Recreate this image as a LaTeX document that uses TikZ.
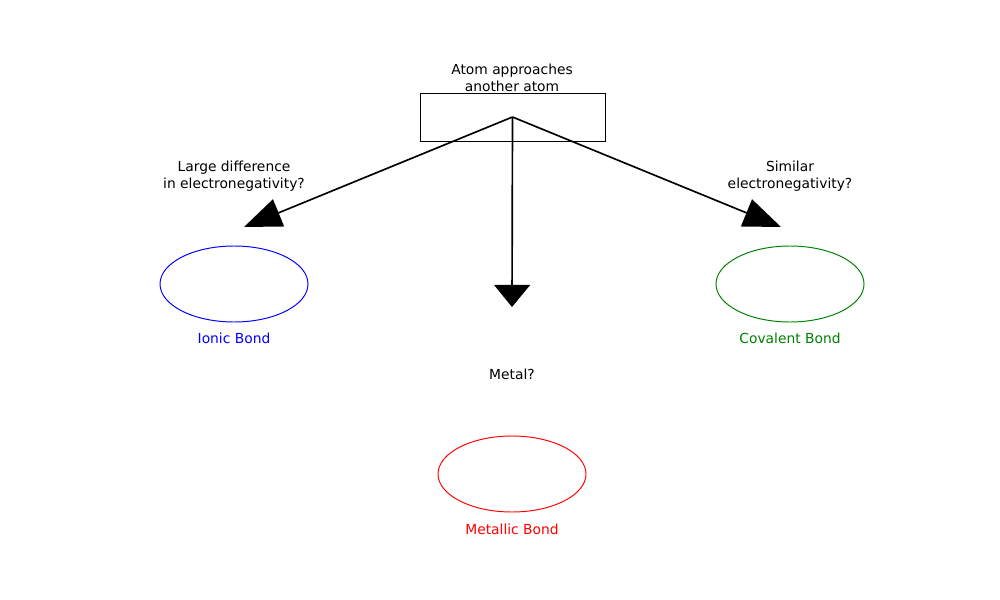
\documentclass[tikz,border=0pt]{standalone}
\usepackage{fontspec}
\setmainfont{DejaVu Sans}
\usetikzlibrary{arrows.meta}

\begin{document}
\begin{tikzpicture}[x=0.0254cm, y=-0.0254cm,
		txt/.style={inner sep=0pt, align=center, font=\fontsize{10}{12}\selectfont},
		sidearrow/.style={line width=1.2pt, -{Triangle[length=27pt, width=21pt]}},
		midarrow/.style={line width=1.2pt, -{Triangle[length=16pt, width=26pt]}}]
			% 画布范围
			\useasboundingbox (0,0) rectangle (1000,600);
			
			% 起点方框与说明
			\node[draw, line width=0.6pt, minimum width=185*0.0254cm, minimum height=48*0.0254cm, inner sep=0pt] (start) at (512.5,117) {};
			\node[txt] (starttxt) at (512,78) {Atom approaches\\another atom};
			
			% 箭头终点
			\coordinate (tipL) at (244,227);
			\coordinate (tipM) at (512,307);
			\coordinate (tipR) at (781,227);
			\draw[sidearrow] (start.center) -- (tipL);
			\draw[midarrow] (start.center) -- (tipM);
			\draw[sidearrow] (start.center) -- (tipR);
			
			% 判断条件
			\node[txt] (qL) at (234,176) {Large difference\\in electronegativity?};
			\node[txt] (qR) at (790,176) {Similar\\electronegativity?};
			\node[txt] (qM) at (512,374) {Metal?};
			
			% 三种化学键（椭圆）
			\draw[blue, line width=0.7pt] (234,284) ellipse (74 and 38);
			\node[txt, blue] (ionic) at (234,338) {Ionic Bond};
			\draw[green!50!black, line width=0.7pt] (790,284) ellipse (74 and 38);
			\node[txt, green!50!black] (covalent) at (790,338) {Covalent Bond};
			\draw[red, line width=0.7pt] (512,474) ellipse (74 and 38);
			\node[txt, red] (metallic) at (512,529) {Metallic Bond};
		\end{tikzpicture}
\end{document}
